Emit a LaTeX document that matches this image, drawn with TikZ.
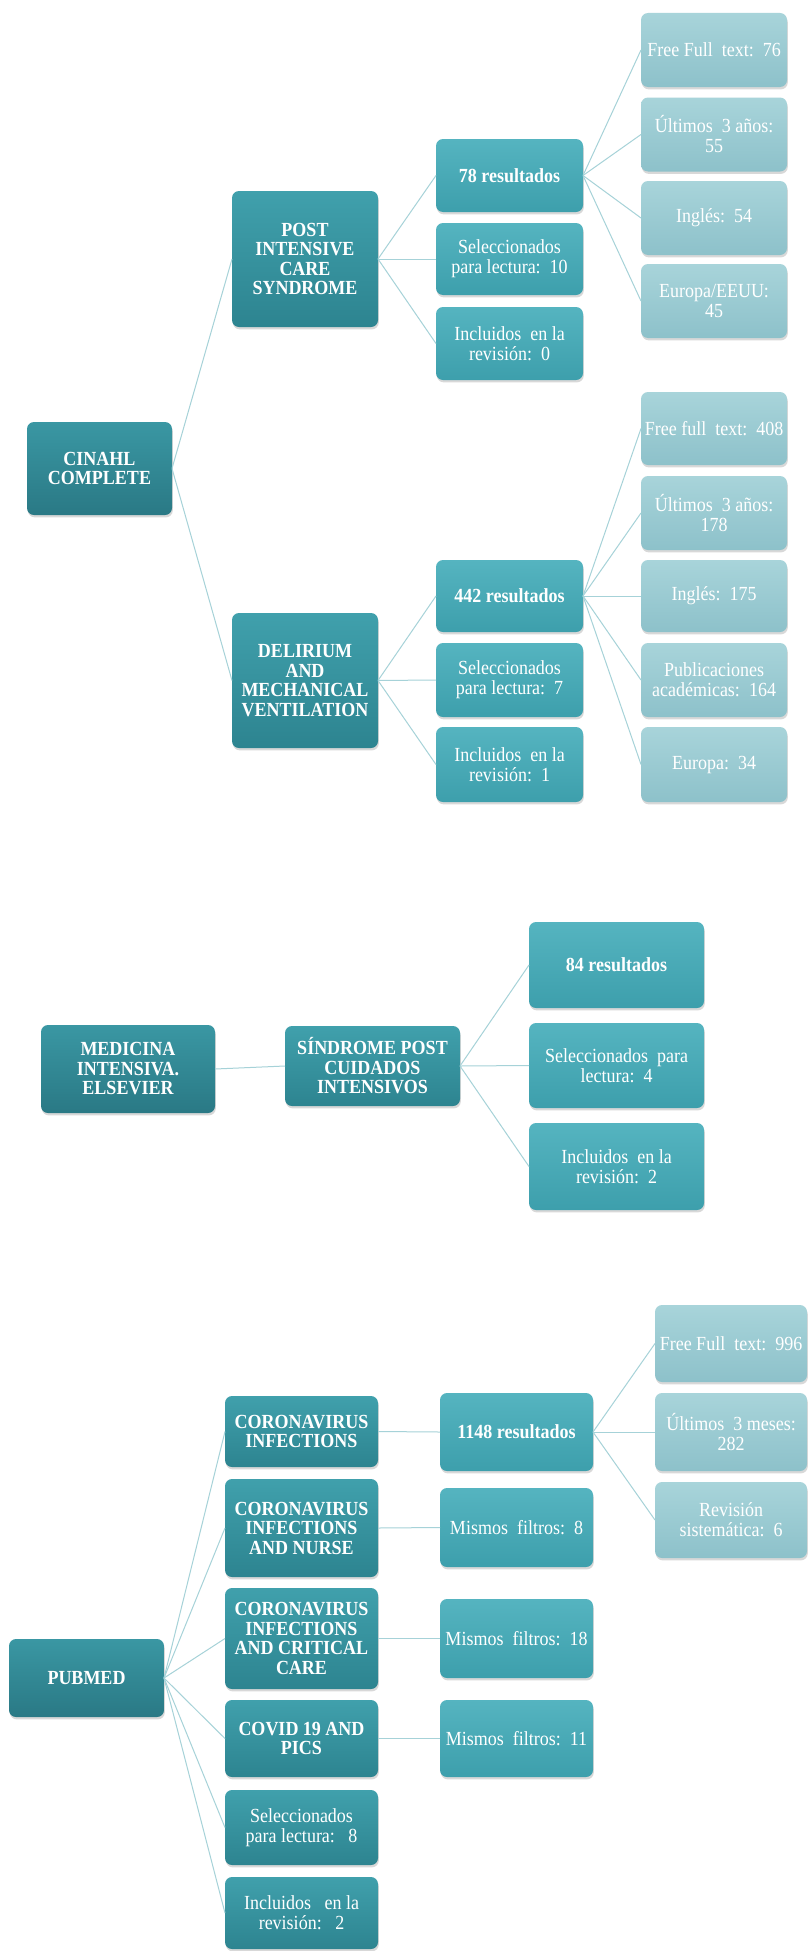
\documentclass[tikz,border=0pt]{standalone}
\usepackage{fontspec}
\setmainfont{Liberation Serif}[FakeStretch=0.9]
\usetikzlibrary{shadows}
\definecolor{czt}{HTML}{3A97A3}
\definecolor{czb}{HTML}{2A7985}
\definecolor{cot}{HTML}{40A0AC}
\definecolor{cob}{HTML}{2D8490}
\definecolor{ctt}{HTML}{55B4C0}
\definecolor{ctb}{HTML}{3D9FAC}
\definecolor{cht}{HTML}{A8D4DA}
\definecolor{chb}{HTML}{8DC1CA}
\definecolor{lineC}{HTML}{A6D2D8}
\tikzset{
  bx/.style={rounded corners=7pt, text=white, align=center, inner sep=2pt, outer sep=0pt,
    font=\fontsize{20}{20}\selectfont,
    drop shadow={shadow xshift=0.8pt, shadow yshift=-2.4pt, opacity=0.3}},
  lvzero/.style={bx, top color=czt, bottom color=czb, font=\fontsize{20}{19.5}\selectfont\bfseries},
  lvone/.style={bx, top color=cot, bottom color=cob, font=\fontsize{20}{19.5}\selectfont\bfseries},
  lvonen/.style={bx, top color=cot, bottom color=cob},
  lvtwo/.style={bx, top color=ctt, bottom color=ctb},
  lvtwob/.style={lvtwo, font=\fontsize{20}{20}\selectfont\bfseries},
  lvthree/.style={bx, top color=cht, bottom color=chb},
  conn/.style={draw=lineC, line width=1pt}
}
\begin{document}
\begin{tikzpicture}[x=1pt,y=-1pt]
\useasboundingbox[fill=white] (0,0) rectangle (807,1951);

% ---------- Section 1: CINAHL ----------
\node[lvzero, minimum width=145pt, minimum height=93pt] (cinahl) at (99.5,468.5) {CINAHL\\COMPLETE};
\node[lvone, minimum width=146pt, minimum height=136pt] (post) at (305,259) {POST\\INTENSIVE\\CARE\\SYNDROME};
\node[lvtwob, minimum width=147pt, minimum height=73pt] (r78) at (509.5,175.5) {78 resultados};
\node[lvtwo, minimum width=147pt, minimum height=72pt] (sel10) at (509.5,259) {Seleccionados\\para lectura:\ \ 10};
\node[lvtwo, minimum width=147pt, minimum height=73pt] (inc0) at (509.5,343.5) {Incluidos\ \ en la\\revisión:\ \ 0};
\node[lvthree, minimum width=146pt, minimum height=74pt] (f76) at (714,50) {Free Full\ \ text:\ \ 76};
\node[lvthree, minimum width=146pt, minimum height=74pt] (u55) at (714,134.5) {Últimos\ \ 3 años:\\55};
\node[lvthree, minimum width=146pt, minimum height=74pt] (i54) at (714,218) {Inglés:\ \ 54};
\node[lvthree, minimum width=146pt, minimum height=74pt] (e45) at (714,301) {Europa/EEUU:\\45};

\node[lvone, minimum width=146pt, minimum height=135pt] (delir) at (305,680.5) {DELIRIUM\\AND\\MECHANICAL\\VENTILATION};
\node[lvtwob, minimum width=147pt, minimum height=72pt] (r442) at (509.5,596) {442 resultados};
\node[lvtwo, minimum width=147pt, minimum height=74pt] (sel7) at (509.5,680) {Seleccionados\\para lectura:\ \ 7};
\node[lvtwo, minimum width=147pt, minimum height=75pt] (inc1) at (509.5,764.5) {Incluidos\ \ en la\\revisión:\ \ 1};
\node[lvthree, minimum width=146pt, minimum height=73pt] (f408) at (714,428.5) {Free full\ \ text:\ \ 408};
\node[lvthree, minimum width=146pt, minimum height=74pt] (u178) at (714,513) {Últimos\ \ 3 años:\\178};
\node[lvthree, minimum width=146pt, minimum height=72pt] (i175) at (714,596) {Inglés:\ \ 175};
\node[lvthree, minimum width=146pt, minimum height=74pt] (pub164) at (714,680) {Publicaciones\\académicas:\ \ 164};
\node[lvthree, minimum width=146pt, minimum height=75pt] (eu34) at (714,764.5) {Europa:\ \ 34};

\draw[conn] (cinahl.east) -- (post.west);
\draw[conn] (cinahl.east) -- (delir.west);
\foreach \c in {r78,sel10,inc0} \draw[conn] (post.east) -- (\c.west);
\foreach \c in {f76,u55,i54,e45} \draw[conn] (r78.east) -- (\c.west);
\foreach \c in {r442,sel7,inc1} \draw[conn] (delir.east) -- (\c.west);
\foreach \c in {f408,u178,i175,pub164,eu34} \draw[conn] (r442.east) -- (\c.west);

% ---------- Section 2: MEDICINA INTENSIVA ----------
\node[lvzero, minimum width=174pt, minimum height=88pt] (med) at (128,1069) {MEDICINA\\INTENSIVA.\\ELSEVIER};
\node[lvone, minimum width=175pt, minimum height=80pt] (sind) at (372.5,1066) {SÍNDROME POST\\CUIDADOS\\INTENSIVOS};
\node[lvtwob, minimum width=175pt, minimum height=86pt] (r84) at (616.5,965) {84 resultados};
\node[lvtwo, minimum width=175pt, minimum height=85pt] (sel4) at (616.5,1065.5) {Seleccionados\ \ para\\lectura:\ \ 4};
\node[lvtwo, minimum width=175pt, minimum height=87pt] (inc2b) at (616.5,1166.5) {Incluidos\ \ en la\\revisión:\ \ 2};

\draw[conn] (med.east) -- (sind.west);
\foreach \c in {r84,sel4,inc2b} \draw[conn] (sind.east) -- (\c.west);

% ---------- Section 3: PUBMED ----------
\node[lvzero, minimum width=155pt, minimum height=78pt] (pubmed) at (86.5,1678) {PUBMED};
\node[lvone, minimum width=153pt, minimum height=71pt] (ci) at (301.5,1431.5) {CORONAVIRUS\\INFECTIONS};
\node[lvone, minimum width=153pt, minimum height=98pt] (cin) at (301.5,1528) {CORONAVIRUS\\INFECTIONS\\AND NURSE};
\node[lvone, minimum width=153pt, minimum height=101pt] (cic) at (301.5,1638.5) {CORONAVIRUS\\INFECTIONS\\AND CRITICAL\\CARE};
\node[lvone, minimum width=153pt, minimum height=77pt] (cov) at (301.5,1738.5) {COVID 19 AND\\PICS};
\node[lvonen, minimum width=153pt, minimum height=75pt] (sel8) at (301.5,1827.5) {Seleccionados\\para lectura:\ \ \ 8};
\node[lvonen, minimum width=153pt, minimum height=72pt] (inc2) at (301.5,1913) {Incluidos\ \ \ en la\\revisión:\ \ \ 2};

\node[lvtwob, minimum width=153pt, minimum height=78pt] (r1148) at (516.5,1432) {1148 resultados};
\node[lvtwo, minimum width=153pt, minimum height=79pt] (m8) at (516.5,1527.5) {Mismos\ \ filtros:\ \ 8};
\node[lvtwo, minimum width=153pt, minimum height=79pt] (m18) at (516.5,1638.5) {Mismos\ \ filtros:\ \ 18};
\node[lvtwo, minimum width=153pt, minimum height=77pt] (m11) at (516.5,1738.5) {Mismos\ \ filtros:\ \ 11};

\node[lvthree, minimum width=152pt, minimum height=77pt] (f996) at (731,1343.5) {Free Full\ \ text:\ \ 996};
\node[lvthree, minimum width=152pt, minimum height=78pt] (u282) at (731,1432) {Últimos\ \ 3 meses:\\282};
\node[lvthree, minimum width=152pt, minimum height=76pt] (rev6) at (731,1520) {Revisión\\sistemática:\ \ 6};

\foreach \c in {ci,cin,cic,cov,sel8,inc2} \draw[conn] (pubmed.east) -- (\c.west);
\draw[conn] (ci.east) -- (r1148.west);
\draw[conn] (cin.east) -- (m8.west);
\draw[conn] (cic.east) -- (m18.west);
\draw[conn] (cov.east) -- (m11.west);
\foreach \c in {f996,u282,rev6} \draw[conn] (r1148.east) -- (\c.west);
\end{tikzpicture}
\end{document}
